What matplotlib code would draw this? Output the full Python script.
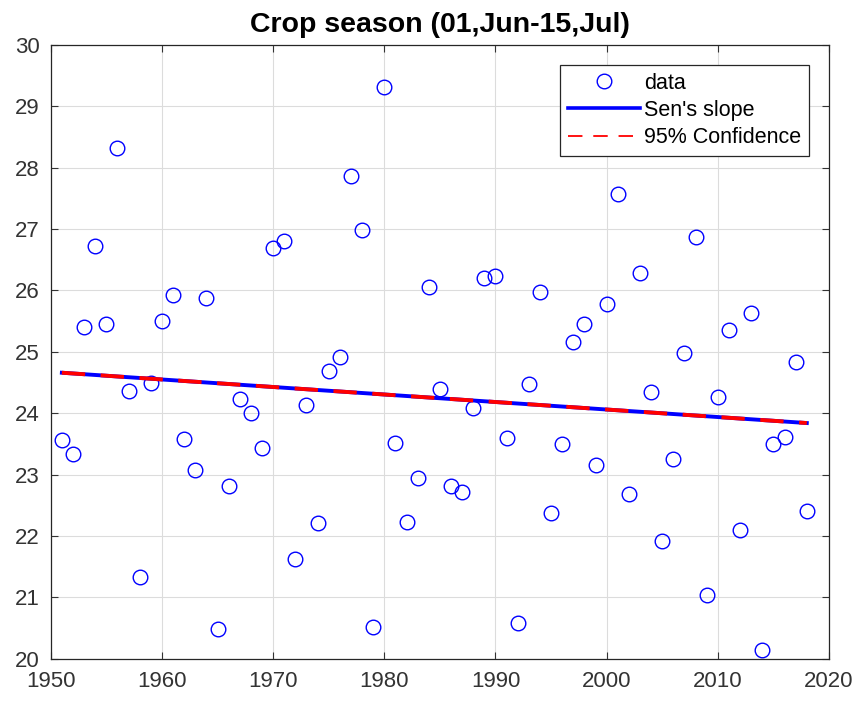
import numpy as np
import matplotlib.pyplot as plt

plt.rcParams['font.family'] = ['Liberation Sans', 'DejaVu Sans']

years = np.arange(1951, 2019)
temps = [23.56, 23.33, 25.41, 26.72, 25.45, 28.32, 24.37, 21.33, 24.50, 25.51,
         25.92, 23.58, 23.08, 25.87, 20.48, 22.81, 24.23, 24.01, 23.43, 26.70,
         26.81, 21.63, 24.13, 22.21, 24.69, 24.91, 27.86, 26.98, 20.52, 29.31,
         23.52, 22.22, 22.94, 26.06, 24.39, 22.82, 22.72, 24.09, 26.20, 26.23,
         23.60, 20.59, 24.47, 25.97, 22.38, 23.50, 25.16, 25.45, 23.16, 25.78,
         27.57, 22.69, 26.28, 24.35, 21.91, 23.26, 24.98, 26.87, 21.04, 24.27,
         25.36, 22.09, 25.63, 20.15, 23.50, 23.61, 24.83, 22.41]

trend_years = [1951, 2018]
sen_vals = [24.66, 23.84]
conf_vals = [24.66, 23.84]

fig = plt.figure(figsize=(8.6, 7.03), dpi=100)
ax = fig.add_axes([0.059, 0.063, 0.905, 0.873])

ax.plot(years, temps, 'o', mfc='none', mec='blue', ms=10.5, mew=1.0, label='data')
ax.plot(trend_years, sen_vals, '-', color='blue', lw=2.8, label="Sen's slope")
ax.plot(trend_years, conf_vals, '--', color='red', lw=2.8, dashes=(6, 4),
        label='95% Confidence')

ax.set_xlim(1950, 2020)
ax.set_ylim(20, 30)
ax.set_xticks(np.arange(1950, 2021, 10))
ax.set_yticks(np.arange(20, 31, 1))
ax.grid(True, color='#dcdcdc', lw=0.8)
ax.set_axisbelow(True)
ax.tick_params(direction='in', length=5, labelsize=16, colors='#333333',
               top=True, right=True)
ax.tick_params(axis='y', pad=8)
ax.tick_params(axis='x', pad=9)
for s in ax.spines.values():
    s.set_color('#262626')
    s.set_linewidth(0.9)

ax.set_title('Crop season (01,Jun-15,Jul)', fontsize=20.5, fontweight='bold', pad=9)

leg = ax.legend(loc='upper right', bbox_to_anchor=(1, 1),
                fontsize=15.5, handlelength=3.35, handletextpad=0.2,
                borderpad=0.35, labelspacing=0.3, fancybox=False,
                framealpha=1, edgecolor='#262626', borderaxespad=0.93)
leg.get_frame().set_linewidth(0.9)
leg.get_lines()[1].set_linewidth(2.6)
leg.get_lines()[2].set_linewidth(1.3)
leg.get_lines()[2].set_dashes((8, 6))

fig.savefig('out.png', dpi=100)
